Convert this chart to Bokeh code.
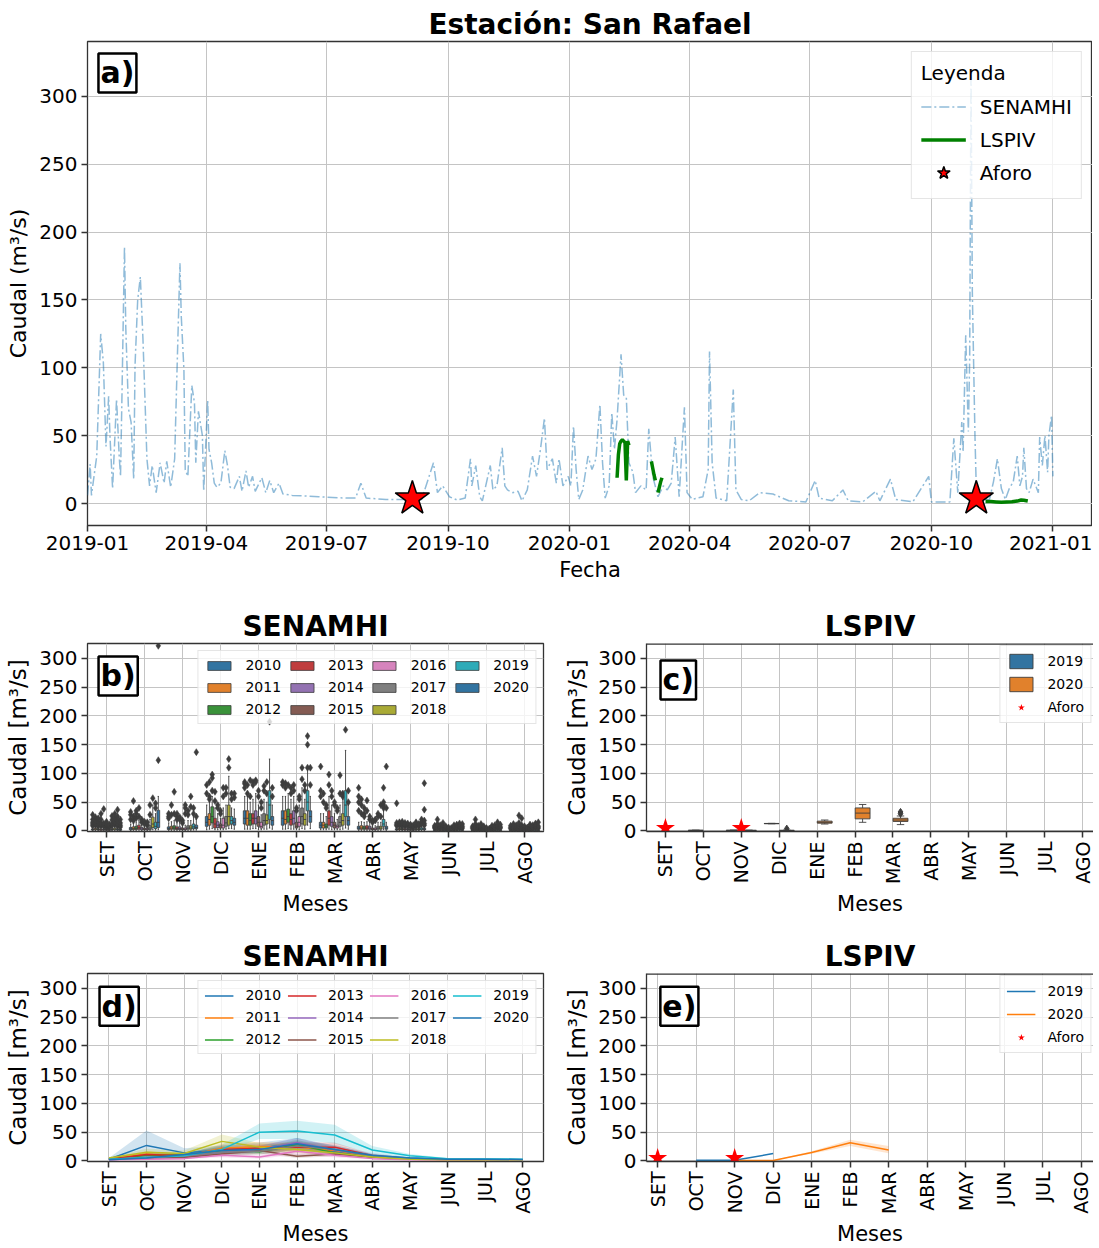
import math
import numpy as np
import pandas as pd
from bokeh.plotting import figure
from bokeh.layouts import column, row
from bokeh.models import (Range1d, FixedTicker, DatetimeTickFormatter, Legend,
                          LegendItem, Label, Span)
from bokeh.embed import file_html
from bokeh.resources import INLINE

FONT = "DejaVu Sans"

# ------------------------------------------------------------------ data
series_start = "2019-01-01"
xaxis_end = "2021-01-31"
date_ticks = ["2019-01-01", "2019-04-01", "2019-07-01", "2019-10-01", "2020-01-01",
              "2020-04-01", "2020-07-01", "2020-10-01", "2021-01-01"]

# SENAMHI daily discharge: (days since 2019-01-01, m3/s)
senamhi_points = [
    (0, 6), (2, 29), (3, 6), (7, 35), (10, 125), (12, 104), (14, 42), (16, 79), (17, 50), (19, 11),
    (22, 77), (24, 35), (25, 20), (26, 74), (28, 189), (29, 129), (31, 70), (33, 60), (35, 18), (36, 102),
    (38, 150), (40, 167), (42, 121), (43, 92), (45, 33), (47, 13), (49, 28), (52, 8), (55, 30), (58, 15),
    (60, 31), (63, 12), (66, 33), (67, 70), (70, 177), (71, 138), (73, 99), (74, 25), (76, 20), (79, 87),
    (81, 74), (82, 30), (84, 68), (87, 50), (88, 9), (91, 76), (92, 40), (94, 30), (96, 15), (98, 12),
    (101, 15), (104, 39), (106, 28), (108, 12), (111, 11), (115, 20), (117, 9), (120, 24), (122, 12), (125, 20),
    (127, 9), (132, 19), (135, 8), (138, 17), (141, 8), (145, 15), (148, 7), (155, 6), (175, 5), (196, 4),
    (203, 4), (207, 15), (211, 4), (226, 3), (241, 3), (253, 3), (262, 30), (265, 8), (269, 13), (274, 5),
    (280, 2.5), (286, 4), (290, 33), (291, 13), (294, 28), (297, 5), (299, 2), (305, 28), (307, 10), (310, 13),
    (314, 41), (316, 13), (318, 10), (322, 8), (326, 9), (329, 2), (333, 10), (337, 35), (340, 20), (343, 40),
    (346, 63), (348, 25), (352, 33), (355, 15), (357, 33), (360, 13), (364, 20), (366, 13), (368, 57), (370, 25),
    (372, 3), (375, 10), (379, 35), (382, 25), (385, 33), (388, 73), (390, 30), (392, 4), (395, 13), (397, 67),
    (399, 40), (401, 62), (404, 110), (406, 80), (408, 78), (410, 30), (413, 23), (415, 8), (419, 13), (423, 10),
    (425, 55), (428, 20), (432, 5), (436, 13), (439, 10), (442, 15), (445, 49), (448, 5), (452, 71), (454, 8),
    (458, 3), (466, 5), (470, 25), (471, 112), (473, 30), (476, 4), (484, 2), (489, 84), (491, 10), (495, 3),
    (501, 2), (509, 8), (519, 7), (531, 2), (544, 1.2), (551, 17), (554, 4), (564, 2), (572, 10), (576, 2),
    (587, 1.2), (597, 9), (600, 2), (608, 18), (612, 3), (625, 1.2), (637, 20), (639, 1.2), (653, 1.2), (656, 48),
    (659, 8), (662, 60), (663, 38), (665, 124), (667, 53), (668, 107), (669, 320), (670, 156), (672, 50), (673, 11),
    (678, 3), (683, 3), (686, 16), (689, 33), (692, 11), (695, 3), (698, 11), (701, 16), (704, 35), (706, 13),
    (708, 20), (709, 41), (711, 11), (713, 8), (716, 18), (720, 8), (721, 49), (723, 28), (725, 50), (727, 23),
    (728, 50), (730, 65), (731, 20)]

# LSPIV segments: (days since 2019-01-01, m3/s)
lspiv_feb = [(401, 19), (402, 36), (403, 44), (404, 46), (405, 47), (406, 46), (407, 45), (408, 17), (409, 46), (410, 43)]
lspiv_mar_a = [(427, 31), (428, 26), (429, 21), (430, 17)]
lspiv_mar_b = [(432, 8), (433, 12), (434, 16), (435, 19)]
lspiv_nov = [(680, 1.5), (684, 1.4), (688, 1.2), (692, 1.0), (696, 1.2), (700, 1.3), (704, 1.8), (707, 2.6), (709, 2.4), (712, 1.8)]

aforo_day = [246, 673]
aforo_q = [3.7, 3.7]

months = ["SET", "OCT", "NOV", "DIC", "ENE", "FEB", "MAR", "ABR", "MAY", "JUN", "JUL", "AGO"]
years = [2010, 2011, 2012, 2013, 2014, 2015, 2016, 2017, 2018, 2019, 2020]

# boxplot statistics (rows = months SET..AGO, columns = years 2010..2020)
box_lo = [
    [0.5, 0.6, 0.5, 0.4, 0.5, 0.4, 0.3, 0.5, 0.6, 0.5, 0.4],
    [0.8, 1.0, 1.0, 1.2, 0.8, 0.8, 0.8, 1.0, 2.0, 1.5, 2.0],
    [1, 1, 1, 1, 1, 0.8, 0.8, 1, 1, 1.5, 1.5],
    [2, 3, 4, 2, 2, 2, 2, 3, 4, 4, 3],
    [3, 3, 3, 4, 4, 2, 2, 3, 3, 5, 3],
    [3, 3, 4, 3, 3, 2, 2, 4, 3, 10, 4],
    [2, 2, 2, 3, 2, 2, 2, 2, 3, 5, 3],
    [1, 1, 1, 1, 1, 1, 1, 1, 1, 2, 1],
    [0.6, 0.7, 0.6, 0.6, 0.6, 0.5, 0.5, 0.6, 0.6, 0.8, 0.7],
    [0.4, 0.5, 0.4, 0.4, 0.4, 0.3, 0.3, 0.4, 0.4, 0.6, 0.5],
    [0.3, 0.4, 0.3, 0.3, 0.3, 0.3, 0.2, 0.3, 0.3, 0.5, 0.4],
    [0.3, 0.4, 0.3, 0.3, 0.3, 0.2, 0.2, 0.3, 0.3, 0.4, 0.4]]
box_q1 = [
    [1.5, 2.0, 1.6, 1.2, 1.5, 1.2, 1.0, 1.6, 2.0, 1.5, 1.2],
    [2.0, 2.5, 2.5, 3.0, 2.0, 2.0, 1.8, 2.5, 6.0, 4.0, 6.0],
    [2.5, 3, 3, 2.5, 2.5, 2, 2, 3, 3, 4, 4],
    [8, 10, 14, 5, 6, 5, 5, 8, 10, 12, 10],
    [12, 10, 10, 12, 12, 8, 5, 10, 12, 20, 10],
    [10, 12, 15, 10, 12, 5, 8, 12, 10, 35, 15],
    [5, 5, 5, 10, 8, 5, 5, 8, 10, 25, 10],
    [3, 3, 3, 3, 3, 2, 2, 3, 3, 8, 3],
    [1.5, 1.8, 1.6, 1.6, 1.5, 1.2, 1.1, 1.6, 1.5, 2.2, 1.8],
    [0.9, 1.0, 0.9, 0.9, 0.8, 0.7, 0.6, 0.9, 0.9, 1.2, 1.0],
    [0.7, 0.8, 0.7, 0.7, 0.7, 0.6, 0.5, 0.7, 0.7, 1.0, 0.8],
    [0.6, 0.8, 0.7, 0.7, 0.6, 0.5, 0.5, 0.7, 0.6, 0.9, 0.8]]
box_med = [
    [2.3, 3.0, 2.4, 2.0, 2.2, 1.8, 1.6, 2.4, 3.0, 2.2, 1.8],
    [3.5, 4.0, 4.5, 5.5, 3.5, 3.0, 2.8, 5.0, 12.0, 8.0, 15.0],
    [4, 5, 5, 4, 4, 3, 3, 5, 5, 7, 6],
    [15, 20, 25, 12, 10, 9, 10, 14, 25, 18, 15],
    [22, 22, 18, 22, 22, 15, 8, 18, 18, 45, 18],
    [22, 20, 25, 20, 22, 8, 15, 25, 20, 50, 25],
    [10, 10, 8, 22, 15, 10, 8, 15, 18, 45, 18],
    [5, 5, 5, 5, 5, 3, 3, 5, 5, 12, 5],
    [2.4, 2.8, 2.5, 2.6, 2.4, 1.9, 1.7, 2.6, 2.3, 3.5, 2.9],
    [1.3, 1.5, 1.3, 1.4, 1.2, 1.0, 0.9, 1.4, 1.3, 1.8, 1.5],
    [1.1, 1.2, 1.1, 1.1, 1.0, 0.9, 0.8, 1.1, 1.0, 1.5, 1.2],
    [1.0, 1.2, 1.1, 1.1, 1.0, 0.8, 0.8, 1.1, 1.0, 1.4, 1.2]]
box_q3 = [
    [3.5, 4.5, 3.6, 3.0, 3.4, 2.6, 2.4, 3.6, 4.6, 3.4, 2.8],
    [6.0, 7.0, 8.0, 10.0, 6.0, 5.0, 4.5, 9.0, 24.0, 15.0, 36.0],
    [7, 8, 9, 7, 7, 5, 5, 9, 9, 12, 10],
    [25, 30, 42, 22, 16, 12, 22, 25, 45, 25, 22],
    [35, 35, 30, 30, 35, 25, 15, 30, 28, 70, 25],
    [35, 35, 38, 30, 35, 15, 25, 40, 30, 70, 35],
    [15, 15, 12, 35, 25, 15, 10, 25, 30, 70, 25],
    [8, 9, 8, 9, 8, 5, 5, 8, 8, 20, 8],
    [3.8, 4.3, 3.9, 4.0, 3.7, 3.0, 2.7, 4.0, 3.6, 5.5, 4.5],
    [2.0, 2.3, 2.0, 2.1, 1.9, 1.5, 1.4, 2.1, 2.0, 2.8, 2.3],
    [1.7, 1.9, 1.7, 1.7, 1.6, 1.4, 1.2, 1.7, 1.6, 2.3, 1.9],
    [1.6, 1.9, 1.7, 1.7, 1.6, 1.3, 1.2, 1.7, 1.6, 2.2, 1.9]]
box_hi = [
    [6.5, 8.0, 6.5, 5.5, 6.2, 4.8, 4.4, 6.5, 8.5, 6.2, 5.0],
    [12, 13, 15, 18, 10, 9, 8, 20, 45, 30, 60],
    [14, 16, 18, 14, 14, 10, 10, 18, 18, 24, 20],
    [45, 50, 60, 40, 30, 22, 40, 45, 95, 40, 38],
    [60, 60, 50, 55, 65, 45, 28, 55, 50, 125, 45],
    [60, 60, 65, 55, 60, 28, 45, 75, 55, 110, 60],
    [30, 30, 25, 60, 45, 30, 20, 45, 55, 140, 45],
    [15, 16, 15, 16, 15, 9, 9, 15, 15, 35, 15],
    [7.0, 7.8, 7.2, 7.4, 6.8, 5.6, 5.0, 7.4, 6.6, 10.0, 8.2],
    [3.5, 4.0, 3.5, 3.7, 3.3, 2.7, 2.4, 3.7, 3.5, 5.0, 4.0],
    [3.0, 3.4, 3.0, 3.0, 2.9, 2.5, 2.2, 3.0, 2.9, 4.0, 3.4],
    [2.9, 3.4, 3.1, 3.1, 2.9, 2.4, 2.2, 3.1, 2.9, 3.9, 3.4]]
box_fliers = [
    [[9, 12, 15, 20, 28], [10, 13, 18, 24], [8, 11, 16, 22], [9, 14, 20, 30], [8, 10, 13, 38], [6, 9, 12, 16],
     [6, 8, 11], [9, 13, 19, 26], [11, 15, 22, 30], [8, 12, 18, 25, 37], [7, 10, 14, 20]],
    [[20, 28, 33], [18, 25, 52], [22, 30, 35], [25, 40], [15, 20], [12, 16], [10, 15], [28, 45], [57], [40, 48], [123, 322]],
    [[22, 25, 30], [28, 45], [30, 68], [20, 25, 30], [20, 24], [14, 18], [30, 40, 45], [28, 35], [42, 60], [40, 30], [137, 25]],
    [[80, 65], [85, 55, 60], [98, 92, 70], [68, 52], [45, 40], [35, 30], [60, 75], [75, 65], [125, 110], [65, 55], [65, 58]],
    [[85, 82, 75], [80, 65], [88, 60], [85, 80], [88, 85], [60, 70], [40, 50], [78, 70], [85, 65], [190], [75, 60]],
    [[85, 80], [83, 75], [80], [75, 65], [80, 70], [40, 35], [60, 55], [110, 90], [80, 70], [165, 150, 110], [110, 80]],
    [[112, 70, 60], [65, 50], [45, 40], [98, 80], [70, 60], [50, 45], [35, 40], [97, 65], [65, 60], [176], [70, 50]],
    [[75, 60, 50, 35], [55, 45, 30], [40, 30, 25], [53, 35], [25, 20], [18, 15], [20, 18], [30, 25], [45, 25],
     [75, 50, 45, 40], [112, 40]],
    [[9, 11, 14, 48], [9, 12, 15], [8, 10, 13, 16], [9, 12, 14], [8, 10, 13], [7, 9, 11], [6, 8, 10], [9, 11, 15],
     [8, 10, 12], [12, 15, 20], [10, 13, 18, 37, 83]],
    [[5, 7, 9], [5, 8, 12, 20], [5, 7, 10], [5, 7, 9, 14], [4, 6, 8], [4, 6], [3, 5], [5, 7, 10], [5, 7, 11], [6, 9, 13], [5, 8, 12]],
    [[4, 6, 8], [5, 8, 12, 20], [4, 6, 9], [4, 6, 8, 12], [4, 6, 8], [3, 5], [3, 4], [4, 6, 9], [4, 6, 10], [6, 9, 15], [5, 7, 11]],
    [[4, 6, 9], [5, 8, 12], [4, 6, 10], [5, 8, 14, 27], [4, 7, 10, 22], [3, 5, 8], [3, 4, 6], [4, 7, 11], [4, 6, 10],
     [6, 9, 13], [5, 8, 15]]]

# LSPIV boxplots (panel c)
c_month = [1, 2, 2, 3, 3, 4, 5, 6]
c_year = [2019, 2019, 2020, 2019, 2020, 2020, 2020, 2020]
c_lo = [0.6, 0.6, 0.5, 12.4, 0.5, 12.0, 15.0, 11.0]
c_q1 = [0.8, 0.8, 0.7, 12.6, 0.7, 13.5, 21.0, 16.5]
c_med = [1.0, 1.0, 0.9, 12.8, 0.9, 15.0, 31.0, 19.0]
c_q3 = [1.2, 1.2, 1.1, 13.0, 1.1, 17.0, 40.0, 22.0]
c_hi = [1.4, 1.5, 1.4, 13.2, 1.5, 19.0, 46.0, 26.0]
c_fliers = [[], [], [], [], [4.0], [], [], [30.0, 33.0]]

# monthly means and confidence bands (panel d), months SET..AGO
d_mean = {
    2010: [3, 27, 14, 19, 23, 29, 17, 8, 5, 3, 2.5, 2],
    2011: [4, 12, 8, 22, 25, 24, 18, 8, 4, 2.5, 2, 2],
    2012: [3, 10, 10, 18, 16, 28, 14, 7, 4, 2.5, 2, 2],
    2013: [3, 11, 9, 20, 22, 24, 24, 9, 4, 2.5, 2, 2],
    2014: [2, 6, 8, 15, 20, 32, 19, 9, 4, 2.5, 2, 2],
    2015: [2, 5, 6, 12, 18, 8, 12, 7, 3, 2, 2, 2],
    2016: [2, 3, 4, 10, 7, 17, 10, 4, 2, 1.5, 1.5, 1.5],
    2017: [3, 6, 9, 15, 17, 26, 20, 8, 4, 2.5, 2, 2],
    2018: [5, 15, 13, 34, 24, 20, 14, 7, 3, 2, 2, 2],
    2019: [3, 6, 9, 20, 50, 52, 45, 19, 9, 4, 3.5, 3],
    2020: [2, 5, 11, 18, 20, 30, 20, 10, 5, 3, 3, 2.5]}
d_lo = {
    2010: [1.5, 8, 8, 12, 15, 20, 11, 5, 3.5, 2.5, 2, 1.6],
    2011: [3, 8, 6, 15, 18, 17, 12, 6, 3, 2, 1.6, 1.6],
    2012: [2, 7, 7, 12, 11, 20, 10, 5, 3, 2, 1.6, 1.6],
    2013: [2, 8, 6, 14, 16, 17, 17, 7, 3, 2, 1.6, 1.6],
    2014: [1.5, 4, 5, 11, 14, 24, 13, 7, 3, 2, 1.6, 1.6],
    2015: [1.5, 3, 4, 8, 13, 5, 8, 5, 2, 1.6, 1.6, 1.6],
    2016: [1.5, 2, 3, 6, 4, 11, 6, 3, 1.5, 1.2, 1.2, 1.2],
    2017: [2, 4, 6, 10, 12, 18, 13, 6, 3, 2, 1.6, 1.6],
    2018: [3, 10, 9, 25, 18, 14, 10, 5, 2, 1.6, 1.6, 1.6],
    2019: [2, 4, 6, 14, 38, 38, 30, 13, 6, 3, 2.8, 2.5],
    2020: [1.5, 3, 8, 13, 15, 22, 14, 7, 4, 2.5, 2.5, 2]}
d_hi = {
    2010: [5, 53, 22, 27, 32, 40, 24, 12, 7, 3.6, 3, 2.5],
    2011: [6, 17, 11, 30, 33, 32, 25, 11, 5, 3, 2.5, 2.5],
    2012: [4, 14, 14, 25, 22, 37, 19, 9, 5, 3, 2.5, 2.5],
    2013: [4, 15, 13, 27, 29, 32, 32, 12, 5, 3, 2.5, 2.5],
    2014: [3, 9, 11, 20, 27, 40, 26, 12, 5, 3, 2.5, 2.5],
    2015: [3, 7, 8, 16, 24, 12, 17, 9, 4, 2.5, 2.5, 2.5],
    2016: [3, 4, 6, 15, 11, 24, 14, 6, 3, 2, 2, 2],
    2017: [4, 9, 13, 21, 23, 35, 28, 11, 5, 3, 2.5, 2.5],
    2018: [7, 21, 18, 46, 31, 27, 19, 9, 4, 2.5, 2.5, 2.5],
    2019: [5, 9, 13, 28, 65, 70, 63, 26, 12, 5, 4.2, 3.6],
    2020: [3, 8, 15, 24, 26, 40, 27, 14, 6, 3.6, 3.6, 3]}

# LSPIV monthly means (panel e)
e19_month = [1, 2, 3]
e19_mean = [1.0, 1.0, 12.8]
e19_lo = [0.8, 0.8, 12.5]
e19_hi = [1.2, 1.2, 13.1]
e20_month = [2, 3, 4, 5, 6]
e20_mean = [0.6, 0.9, 14.5, 31.5, 19.0]
e20_lo = [0.4, 0.6, 12.5, 26.0, 13.5]
e20_hi = [0.9, 1.3, 17.0, 37.0, 26.0]

aforo_month = [0, 2]
aforo_month_q = [5.0, 5.0]

# ------------------------------------------------------------------ styles
box_colors = ["#3274a1", "#e1812c", "#3a923a", "#c03d3e", "#9372b2", "#845b53",
              "#d684bd", "#7f7f7f", "#a9aa35", "#2eabb8", "#3274a1"]
line_colors = ["#1f77b4", "#ff7f0e", "#2ca02c", "#d62728", "#9467bd", "#8c564b",
               "#e377c2", "#7f7f7f", "#bcbd22", "#17becf", "#1f77b4"]
EDGE = "#3d3d3d"
SPINE = "#333333"


def ms(day):
    return (pd.Timestamp(series_start) + pd.Timedelta(days=day)).value / 1e6


def make_fig(fw, fh, bl, br, bt, bb, xr, yr, title, **kw):
    p = figure(frame_width=fw, frame_height=fh, min_border_left=bl, min_border_right=br,
               min_border_top=bt, min_border_bottom=bb, x_range=xr, y_range=yr,
               output_backend="svg", toolbar_location=None, title=title, **kw)
    p.title.align = "center"
    p.title.text_font = FONT
    p.title.text_font_size = "28px"
    p.title.text_font_style = "bold"
    p.title.text_color = "black"
    p.title.standoff = 2
    p.outline_line_color = SPINE
    p.outline_line_width = 1.3
    p.background_fill_color = "white"
    p.border_fill_color = "white"
    for ax in list(p.xaxis) + list(p.yaxis):
        ax.axis_label_text_font = FONT
        ax.axis_label_text_font_size = "21px"
        ax.axis_label_text_font_style = "normal"
        ax.axis_label_text_color = "black"
        ax.major_label_text_font = FONT
        ax.major_label_text_font_size = "20px"
        ax.major_label_text_color = "black"
        ax.major_tick_in = 0
        ax.major_tick_out = 6
        ax.major_tick_line_width = 1.5
        ax.major_tick_line_color = SPINE
        ax.minor_tick_in = 0
        ax.minor_tick_out = 0
        ax.axis_line_color = None
        ax.major_label_standoff = 4
        ax.axis_label_standoff = 5
    p.grid.grid_line_color = "#c4c4c4"
    p.grid.grid_line_width = 1
    return p


def month_axes(p, ylabel):
    p.xaxis.ticker = FixedTicker(ticks=list(range(12)))
    p.xaxis.major_label_overrides = {i: m for i, m in enumerate(months)}
    p.xaxis.major_label_orientation = math.pi / 2
    p.xaxis.major_label_text_font_size = "19px"
    p.xaxis.axis_label = "Meses"
    p.yaxis.ticker = FixedTicker(ticks=[0, 50, 100, 150, 200, 250, 300])
    p.yaxis.axis_label = ylabel
    p.yaxis.axis_label_text_font_size = "23px"


def panel_label(p, x, y, text):
    p.add_layout(Label(x=x, y=y, text=text, text_font=FONT, text_font_size="30px",
                       text_font_style="bold", text_color="black", text_align="left",
                       text_baseline="top", border_line_color="black", border_line_width=2.5,
                       background_fill_color="white", padding=2))


def clipped_right(p):
    # right side of the frame falls outside the picture in the original
    p.outline_line_color = None
    for ax in list(p.xaxis) + list(p.yaxis):
        ax.axis_line_color = SPINE
        ax.axis_line_width = 1.3
    p.add_layout(Span(location=326, dimension="width", line_color=SPINE, line_width=2.6))


def small_legend(p, items, nrows, glyph_h, spacing, margin):
    leg = Legend(items=items, location="top_right", orientation="vertical", nrows=nrows,
                 label_text_font=FONT, label_text_font_size="14px", label_text_color="black",
                 glyph_width=29, glyph_height=glyph_h, label_standoff=12, spacing=spacing,
                 padding=6, margin=margin, border_line_color="#cccccc", border_line_width=1,
                 background_fill_alpha=0.8, label_height=16)
    p.add_layout(leg)
    return leg


YR = Range1d(-1, 326)

# ------------------------------------------------------------------ panel a
pa = make_fig(1005, 484, 87, 0, 41, 65, Range1d(ms(0), pd.Timestamp(xaxis_end).value / 1e6),
              Range1d(-16.2, 340.5), "Estación: San Rafael", x_axis_type="datetime")
pa.xaxis.ticker = FixedTicker(ticks=[pd.Timestamp(t).value / 1e6 for t in date_ticks])
pa.xaxis.formatter = DatetimeTickFormatter(days="%Y-%m", months="%Y-%m", years="%Y-%m",
                                           hours="%Y-%m", hourmin="%Y-%m")
pa.yaxis.ticker = FixedTicker(ticks=[0, 50, 100, 150, 200, 250, 300])
pa.xaxis.axis_label = "Fecha"
pa.yaxis.axis_label = "Caudal (m³/s)"
pa.yaxis.axis_label_text_font_size = "22px"

sx = [ms(d) for d, q in senamhi_points]
sy = [q for d, q in senamhi_points]
r_sen = pa.line(sx, sy, line_color="#1f77b4", line_alpha=0.5, line_width=1.5, line_dash="10 3 2 3")

lx, ly = [], []
for seg in (lspiv_feb, lspiv_mar_a, lspiv_mar_b, lspiv_nov):
    lx += [ms(d) for d, q in seg] + [ms(seg[-1][0])]
    ly += [q for d, q in seg] + [float("nan")]
r_lsp = pa.line(lx, ly, line_color="#008000", line_width=3.5)

r_af = pa.scatter([ms(d) for d in aforo_day], aforo_q, marker="star", size=36,
                  fill_color="red", line_color="black", line_width=1.5)

leg_a = Legend(items=[LegendItem(label="SENAMHI", renderers=[r_sen]),
                      LegendItem(label="LSPIV", renderers=[r_lsp]),
                      LegendItem(label="Aforo", renderers=[r_af])],
               title="Leyenda", location="top_right", margin=10, padding=9,
               title_text_font=FONT, title_text_font_size="20px", title_text_font_style="normal",
               title_text_color="black",
               label_text_font=FONT, label_text_font_size="20px", label_text_color="black",
               glyph_width=45, glyph_height=33, spacing=0, label_standoff=14,
               border_line_color="#cccccc", border_line_width=1, background_fill_alpha=0.8)
pa.add_layout(leg_a)
panel_label(pa, ms(8.3), 331.7, "a)")

# ------------------------------------------------------------------ panel b
pb = make_fig(456, 188, 87, 18, 53, 89, Range1d(-0.5, 11.5), YR, "SENAMHI")
month_axes(pb, "Caudal [m³/s]")
n = len(years)
w_each = 0.8 / n
bw = w_each * 0.98
items_b = []
for yi, yr in enumerate(years):
    xs = [m + (yi - (n - 1) / 2) * w_each for m in range(12)]
    lo = [box_lo[m][yi] for m in range(12)]
    q1 = [box_q1[m][yi] for m in range(12)]
    md = [box_med[m][yi] for m in range(12)]
    q3 = [box_q3[m][yi] for m in range(12)]
    hi = [box_hi[m][yi] for m in range(12)]
    pb.segment(xs, lo, xs, q1, line_color=EDGE, line_width=0.9)
    pb.segment(xs, q3, xs, hi, line_color=EDGE, line_width=0.9)
    pb.segment([x - bw / 4 for x in xs], lo, [x + bw / 4 for x in xs], lo, line_color=EDGE, line_width=0.9)
    pb.segment([x - bw / 4 for x in xs], hi, [x + bw / 4 for x in xs], hi, line_color=EDGE, line_width=0.9)
    r = pb.vbar(x=xs, bottom=q1, top=q3, width=bw, fill_color=box_colors[yi],
                line_color=EDGE, line_width=0.8)
    pb.segment([x - bw / 2 for x in xs], md, [x + bw / 2 for x in xs], md, line_color=EDGE, line_width=0.9)
    fx, fy = [], []
    for m in range(12):
        for v in box_fliers[m][yi]:
            fx.append(xs[m])
            fy.append(v)
    pb.scatter(fx, fy, marker="diamond", size=7, fill_color=EDGE, line_color=EDGE, line_width=0.5)
    items_b.append(LegendItem(label=str(yr), renderers=[r]))
small_legend(pb, items_b, 3, 11, 6, 7)
panel_label(pb, -0.209, 303.5, "b)")

# ------------------------------------------------------------------ panel c
pc = make_fig(447, 188, 82, 0, 53, 89, Range1d(-0.5, 11.29), YR, "LSPIV")
month_axes(pc, "Caudal [m³/s]")
clipped_right(pc)
c_colors = {2019: "#3274a1", 2020: "#e1812c"}
c_rend = {}
cbw = 0.4 * 0.98
for i in range(len(c_month)):
    yr = c_year[i]
    x = c_month[i] + (-0.2 if yr == 2019 else 0.2)
    pc.segment([x, x], [c_lo[i], c_q3[i]], [x, x], [c_q1[i], c_hi[i]], line_color=EDGE, line_width=0.9)
    pc.segment([x - cbw / 4, x - cbw / 4], [c_lo[i], c_hi[i]], [x + cbw / 4, x + cbw / 4],
               [c_lo[i], c_hi[i]], line_color=EDGE, line_width=0.9)
    r = pc.vbar(x=[x], bottom=[c_q1[i]], top=[c_q3[i]], width=cbw, fill_color=c_colors[yr],
                line_color=EDGE, line_width=0.9)
    pc.segment([x - cbw / 2], [c_med[i]], [x + cbw / 2], [c_med[i]], line_color=EDGE, line_width=0.9)
    if c_fliers[i]:
        pc.scatter([x] * len(c_fliers[i]), c_fliers[i], marker="diamond", size=7,
                   fill_color=EDGE, line_color=EDGE)
    c_rend.setdefault(yr, r)
r_cs = pc.scatter(aforo_month, aforo_month_q, marker="star", size=20, fill_color="red", line_color=None)
small_legend(pc, [LegendItem(label="2019", renderers=[c_rend[2019]]),
                  LegendItem(label="2020", renderers=[c_rend[2020]]),
                  LegendItem(label="Aforo", renderers=[r_cs])], 3, 18, 5, 2)
panel_label(pc, -0.13, 296.5, "c)")

# ------------------------------------------------------------------ panel d
pd_ = make_fig(456, 188, 87, 18, 53, 79, Range1d(-0.57, 11.55), YR, "SENAMHI")
month_axes(pd_, "Caudal [m³/s]")
mx = list(range(12))
items_d = []
for yi, yr in enumerate(years):
    pd_.varea(x=mx, y1=d_lo[yr], y2=d_hi[yr], fill_color=line_colors[yi], fill_alpha=0.2)
for yi, yr in enumerate(years):
    r = pd_.line(mx, d_mean[yr], line_color=line_colors[yi], line_width=1.5)
    items_d.append(LegendItem(label=str(yr), renderers=[r]))
small_legend(pd_, items_d, 3, 11, 6, 7)
panel_label(pd_, -0.25, 303.0, "d)")

# ------------------------------------------------------------------ panel e
pe = make_fig(447, 188, 82, 0, 53, 79, Range1d(-0.29, 11.32), YR, "LSPIV")
month_axes(pe, "Caudal [m³/s]")
clipped_right(pe)
pe.varea(x=e19_month, y1=e19_lo, y2=e19_hi, fill_color="#1f77b4", fill_alpha=0.2)
pe.varea(x=e20_month, y1=e20_lo, y2=e20_hi, fill_color="#ff7f0e", fill_alpha=0.2)
r19 = pe.line(e19_month, e19_mean, line_color="#1f77b4", line_width=1.5)
r20 = pe.line(e20_month, e20_mean, line_color="#ff7f0e", line_width=1.5)
r_es = pe.scatter(aforo_month, aforo_month_q, marker="star", size=20, fill_color="red", line_color=None)
small_legend(pe, [LegendItem(label="2019", renderers=[r19]),
                  LegendItem(label="2020", renderers=[r20]),
                  LegendItem(label="Aforo", renderers=[r_es])], 3, 18, 5, 2)
panel_label(pe, 0.07, 303.0, "e)")

layout = column(pa, row(pb, pc), row(pd_, pe))
open("out.html", "w").write(file_html(layout, INLINE, title="Estación: San Rafael"))
